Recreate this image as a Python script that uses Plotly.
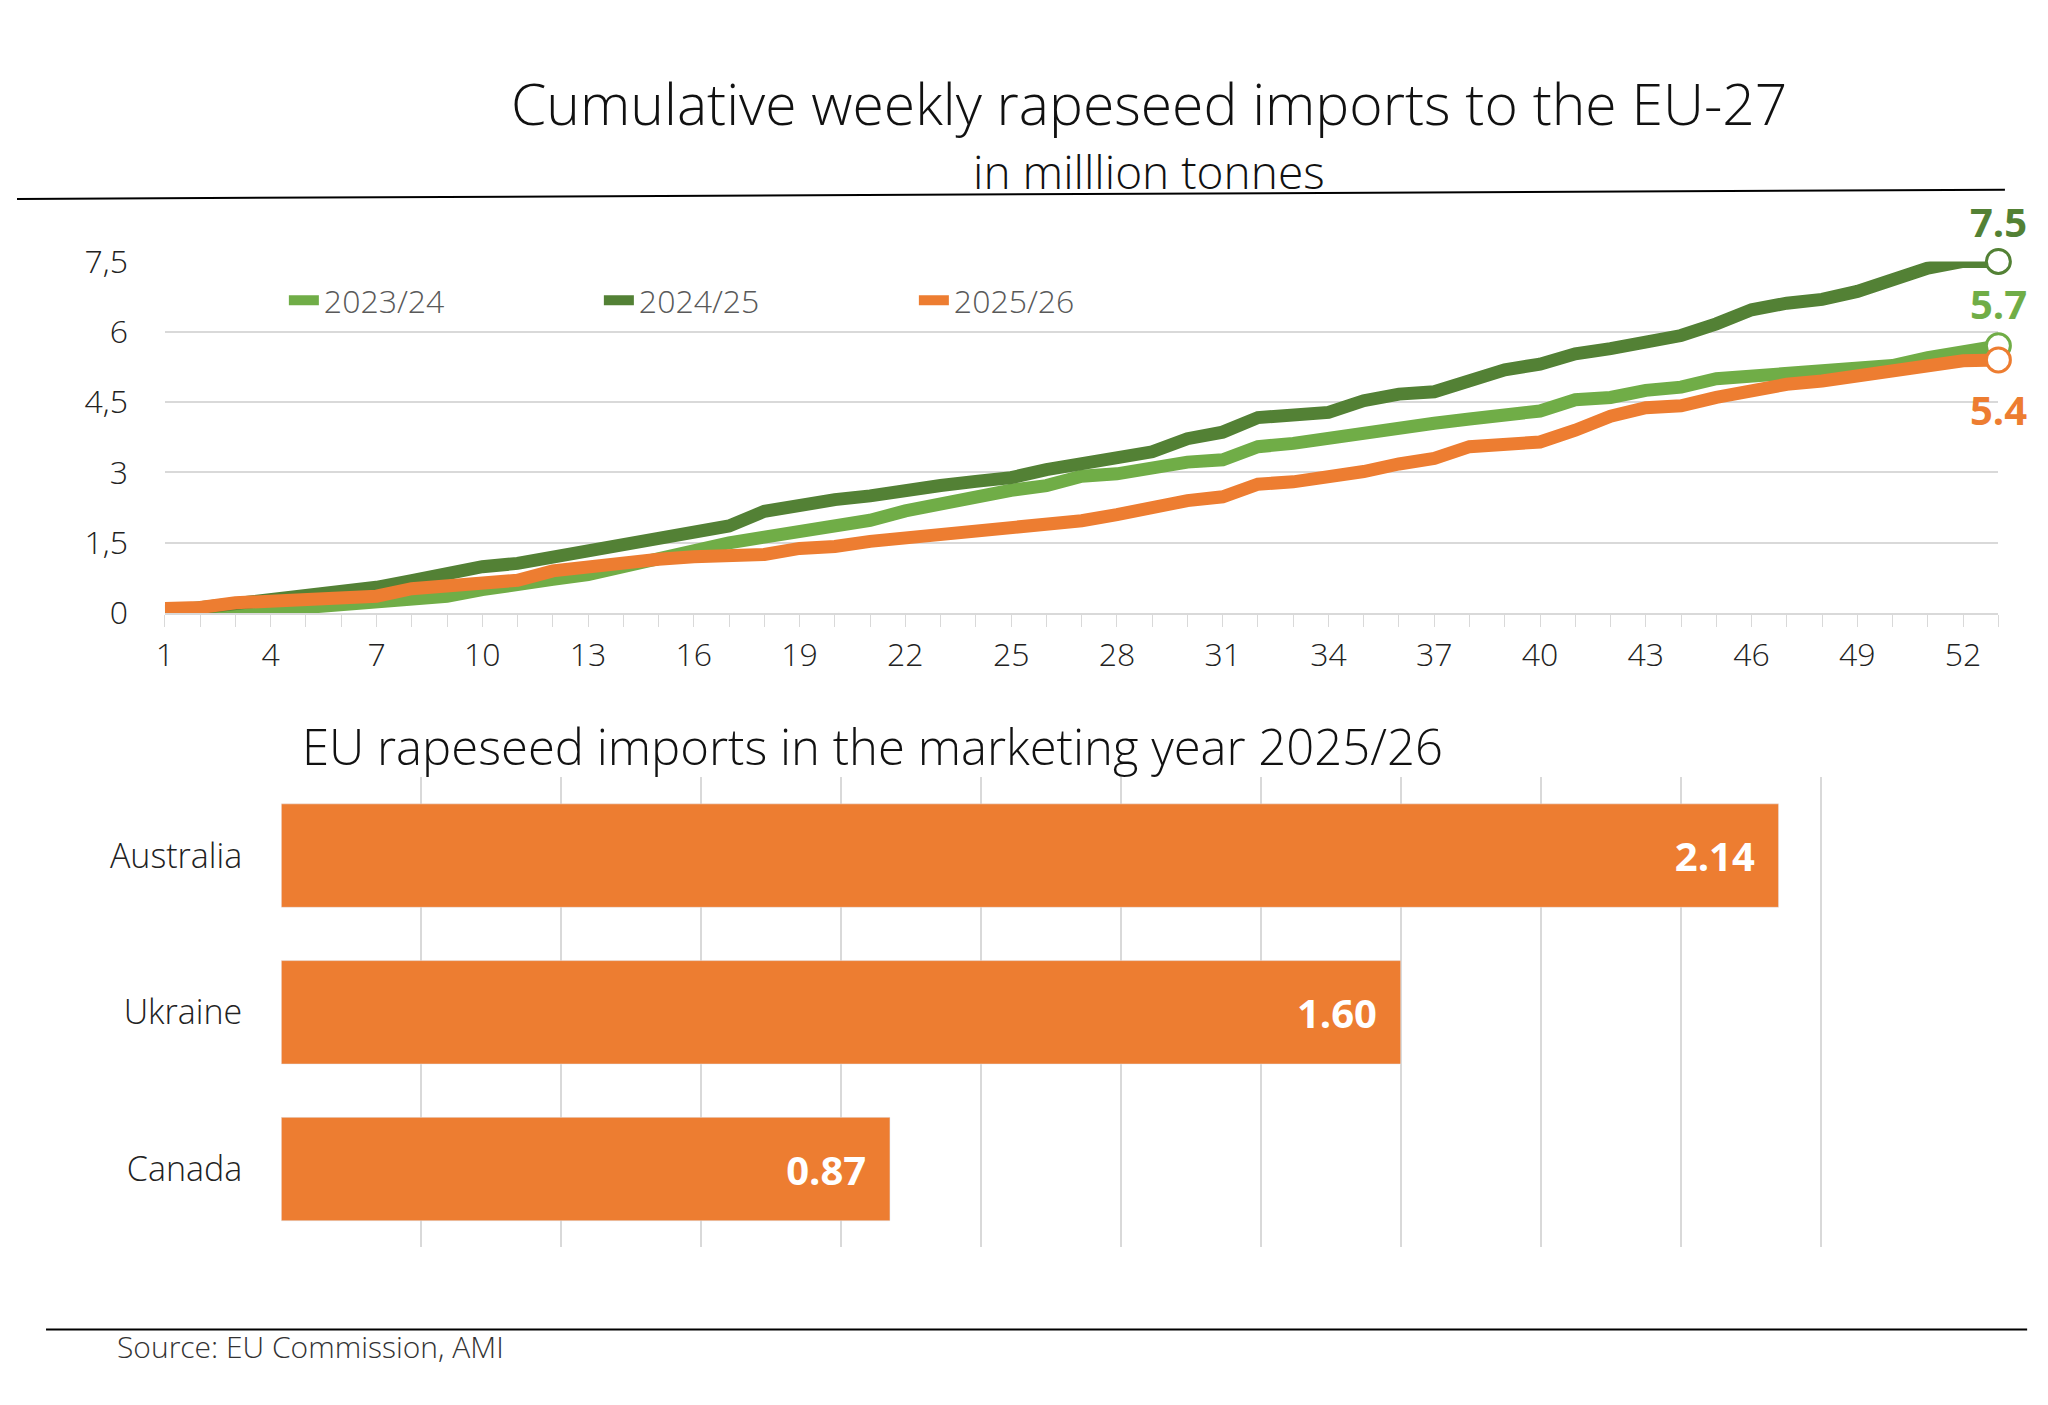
import plotly.graph_objects as go

weeks = list(range(1, 54))
y2023 = [0.0,0.0,0.0,0.0,0.12,0.17,0.22,0.3,0.36,0.5,0.58,0.72,0.82,1.0,1.15,1.35,1.5,1.62,1.72,1.88,1.98,2.18,2.35,2.47,2.62,2.72,2.92,2.97,3.12,3.22,3.27,3.55,3.62,3.74,3.86,3.97,4.05,4.14,4.26,4.31,4.55,4.6,4.75,4.82,5.0,5.05,5.07,5.18,5.2,5.28,5.45,5.6,5.7]
y2024 = [0.03,0.12,0.2,0.27,0.39,0.42,0.55,0.69,0.86,0.99,1.06,1.19,1.31,1.44,1.64,1.72,1.86,2.17,2.31,2.42,2.5,2.58,2.72,2.81,2.89,3.06,3.19,3.28,3.44,3.72,3.86,4.17,4.25,4.28,4.53,4.67,4.72,4.97,5.19,5.31,5.53,5.64,5.78,5.92,6.17,6.47,6.61,6.69,6.86,7.11,7.36,7.5,7.5]
y2025 = [0.1,0.12,0.22,0.25,0.27,0.33,0.36,0.52,0.57,0.62,0.7,0.9,1.0,1.05,1.15,1.2,1.2,1.25,1.38,1.42,1.53,1.6,1.68,1.72,1.8,1.86,1.97,2.1,2.26,2.4,2.48,2.75,2.8,2.88,3.02,3.18,3.3,3.55,3.57,3.65,3.9,4.2,4.38,4.42,4.6,4.75,4.88,4.95,5.05,5.2,5.3,5.38,5.4]
series_names = ["2023/24", "2024/25", "2025/26"]
colors = ["#70AD47", "#538135", "#ED7D31"]
end_labels = ["5.7", "7.5", "5.4"]

countries = ["Australia", "Ukraine", "Canada"]
imports = [2.14, 1.60, 0.87]

ytick_vals = [0, 1.5, 3, 4.5, 6, 7.5]
ytick_text = ["0", "1,5", "3", "4,5", "6", "7,5"]
xtick_vals = list(range(1, 53, 3))

W, H = 2048, 1405
S = 1.306
def px(d): return ((d * S - 18) / 0.995) / W
def py(d): return 1 - ((d * S - 21) / 0.972) / H

LIGHT = dict(family="Open Sans", weight=300)

fig = go.Figure()
for name, ys, c in zip(series_names, [y2023, y2024, y2025], colors):
    fig.add_trace(go.Scatter(x=weeks, y=ys, mode="lines", name=name,
                             line=dict(color=c, width=13), cliponaxis=False,
                             xaxis="x", yaxis="y"))
for ys, c, lab, ay in zip([y2023, y2024, y2025], colors, end_labels, [-42, -40, 50]):
    fig.add_trace(go.Scatter(x=[weeks[-1]], y=[ys[-1]], mode="markers", showlegend=False,
                             marker=dict(size=24, color="white", line=dict(color=c, width=3)),
                             cliponaxis=False, xaxis="x", yaxis="y"))
    fig.add_annotation(x=weeks[-1], y=ys[-1], xref="x", yref="y", text=f"<b>{lab}</b>",
                       showarrow=False, yshift=-ay, font=dict(size=40, color=c, family="Open Sans"))

fig.add_trace(go.Bar(y=countries, x=imports, orientation="h", marker_color="#ED7D31",
                     text=[f"<b>{v:.2f}</b>\u00a0\u00a0" for v in imports], textposition="inside",
                     insidetextanchor="end", textfont=dict(size=40, color="white", family="Open Sans"),
                     width=0.66, showlegend=False, xaxis="x2", yaxis="y2"))

fig.update_layout(
    width=W, height=H, margin=dict(l=0, r=0, t=0, b=0),
    plot_bgcolor="white", paper_bgcolor="white",
    font=dict(family="Open Sans", color="#222222", size=32, weight=300),
    xaxis=dict(domain=[px(127), px(1530)], range=[1, 53], tickvals=xtick_vals,
               showgrid=False, showline=True, linecolor="#d9d9d9", linewidth=2,
               ticks="outside", ticklen=12, tickcolor="#d9d9d9",
               minor=dict(dtick=1, ticks="outside", ticklen=12, tickcolor="#d9d9d9"),
               tickfont=dict(size=32, color="#222", **LIGHT)),
    yaxis=dict(domain=[py(463), py(193)], range=[0, 7.5], tickvals=ytick_vals, ticktext=ytick_text,
               gridcolor="#d9d9d9", gridwidth=2, zeroline=False, showline=False,
               tickfont=dict(size=32, color="#222", **LIGHT), ticklabelstandoff=36),
    xaxis2=dict(domain=[px(216), px(1501)], range=[0, 2.4], dtick=0.2, showticklabels=False,
                gridcolor="#d9d9d9", gridwidth=2, zeroline=False, anchor="y2"),
    yaxis2=dict(domain=[py(950), py(589)], autorange="reversed", anchor="x2",
                tickfont=dict(size=34, color="#222", **LIGHT), ticklabelstandoff=38, showgrid=False),
    legend=dict(orientation="h", x=px(218), y=py(223), xanchor="left", yanchor="middle",
                font=dict(size=32, color="#595959", **LIGHT), bgcolor="rgba(0,0,0,0)",
                entrywidth=270, tracegroupgap=0),
    bargap=0.33,
)

fig.add_annotation(x=px(880), y=py(40), xref="paper", yref="paper", showarrow=False,
                   text="Cumulative weekly rapeseed imports to the EU-27",
                   font=dict(size=57, color="#111", **LIGHT))
fig.add_annotation(x=px(880), y=py(98), xref="paper", yref="paper", showarrow=False,
                   text="in milllion tonnes", font=dict(size=46, color="#111", **LIGHT))
fig.add_annotation(x=px(230), y=py(565), xref="paper", yref="paper", showarrow=False,
                   xanchor="left", text="EU rapeseed imports in the marketing year 2025/26",
                   font=dict(size=49, color="#111", **LIGHT))
fig.add_annotation(x=px(89), y=py(1043), xref="paper", yref="paper", showarrow=False,
                   xanchor="left", text="Source: EU Commission, AMI",
                   font=dict(size=30, color="#333", **LIGHT))
fig.add_shape(type="line", xref="paper", yref="paper", x0=0, x1=px(1535), y0=py(145), y1=py(138),
              line=dict(color="black", width=2))
fig.add_shape(type="line", xref="paper", yref="paper", x0=px(36), x1=px(1552), y0=py(1013), y1=py(1013),
              line=dict(color="black", width=2))

fig.write_html("out.html")
